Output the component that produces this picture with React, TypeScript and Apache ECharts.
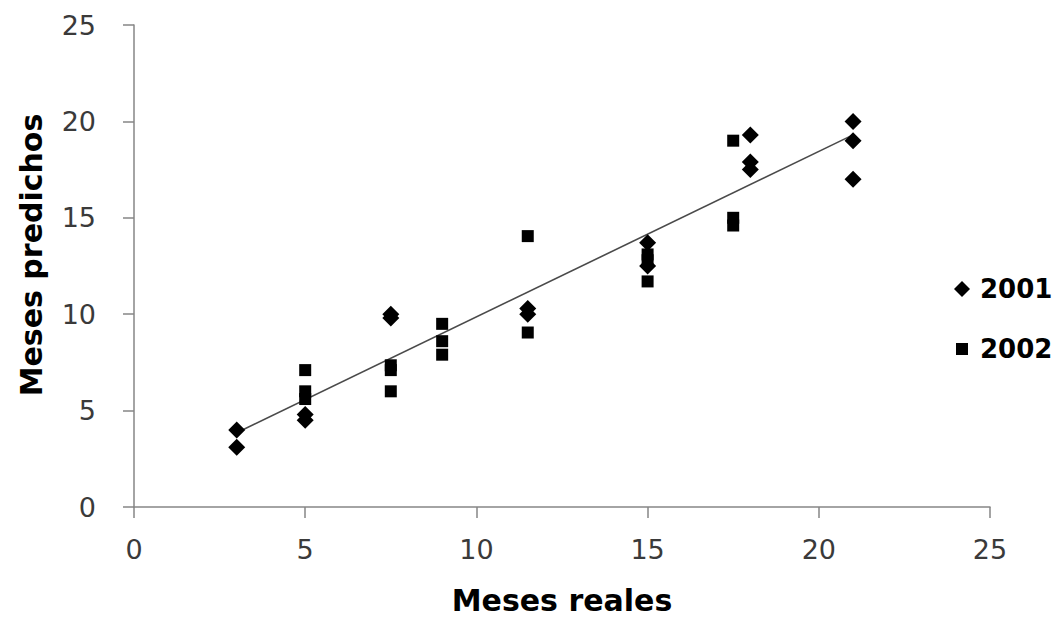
import React, { useEffect, useRef } from "react";
import * as echarts from "echarts";

const x2001 = [3, 3, 5, 5, 7.5, 7.5, 11.5, 11.5, 15, 15, 18, 18, 18, 21, 21, 21];
const y2001 = [4.0, 3.1, 4.8, 4.5, 10.0, 9.8, 10.3, 10.0, 13.7, 12.5, 19.3, 17.9, 17.5, 20.0, 19.0, 17.0];

const x2002 = [5, 5, 5, 7.5, 7.5, 7.5, 9, 9, 9, 11.5, 11.5, 15, 15, 15, 17.5, 17.5, 17.5];
const y2002 = [7.1, 6.0, 5.6, 7.35, 7.1, 6.0, 9.5, 8.6, 7.9, 14.05, 9.05, 13.1, 12.8, 11.7, 19.0, 15.0, 14.6];

const trendX = [3, 21];
const trendY = [3.85, 19.3];

const seriesNames = ["2001", "2002"];
const xTitle = "Meses reales";
const yTitle = "Meses predichos";

const zip = (xs: number[], ys: number[]) => xs.map((x, i) => [x, ys[i]]);

export default function App() {
  const ref = useRef<HTMLDivElement>(null);
  useEffect(() => {
    document.body.style.margin = "0";
    const chart = echarts.init(ref.current!, null, { renderer: "svg" });
    const axisColor = "#868686";
    const labelColor = "#3a3a3a";
    const font = "DejaVu Sans";
    const legendText = { fontFamily: font, fontSize: 26, fontWeight: "bold", color: "#000", padding: [0, 0, 0, 5] };
    chart.setOption({
      animation: false,
      backgroundColor: "#ffffff",
      grid: { left: 134, right: 66, top: 25, bottom: 110, containLabel: false, outerBoundsMode: "none" },
      xAxis: {
        type: "value",
        min: 0,
        max: 25,
        interval: 5,
        name: xTitle,
        nameLocation: "middle",
        nameGap: 78,
        nameTextStyle: { fontFamily: font, fontSize: 30, lineHeight: 30, fontWeight: "bold", color: "#000" },
        splitLine: { show: false },
        axisLine: { show: true, onZero: false, lineStyle: { color: axisColor, width: 1.5 } },
        axisTick: { show: true, length: 11, lineStyle: { color: axisColor, width: 1.5 } },
        axisLabel: { fontFamily: font, fontSize: 27, color: labelColor, margin: 29 },
      },
      yAxis: {
        type: "value",
        min: 0,
        max: 25,
        interval: 5,
        name: yTitle,
        nameLocation: "middle",
        nameGap: 88,
        nameTextStyle: { fontFamily: font, fontSize: 30, fontWeight: "bold", color: "#000", padding: [0, 0, 0, 22] },
        splitLine: { show: false },
        axisLine: { show: true, onZero: false, lineStyle: { color: axisColor, width: 1.5 } },
        axisTick: { show: true, length: 11, lineStyle: { color: axisColor, width: 1.5 } },
        axisLabel: { fontFamily: font, fontSize: 27, color: labelColor, margin: 38 },
      },
      legend: [
        {
          orient: "vertical",
          left: 949,
          top: 271,
          itemWidth: 16,
          itemHeight: 16,
          data: [{ name: seriesNames[0], icon: "diamond" }],
          textStyle: legendText,
        },
        {
          orient: "vertical",
          left: 951,
          top: 331,
          itemWidth: 12,
          itemHeight: 12,
          data: [{ name: seriesNames[1], icon: "rect" }],
          textStyle: { ...legendText, padding: [0, 0, 0, 7] },
        },
      ],
      series: [
        {
          name: "trend",
          type: "line",
          data: zip(trendX, trendY),
          showSymbol: false,
          symbol: "none",
          lineStyle: { color: "#4a4a4a", width: 1.6 },
          silent: true,
          z: 1,
        },
        {
          name: seriesNames[0],
          type: "scatter",
          symbol: "diamond",
          symbolSize: 17,
          itemStyle: { color: "#000", opacity: 1 },
          data: zip(x2001, y2001),
          z: 3,
        },
        {
          name: seriesNames[1],
          type: "scatter",
          symbol: "rect",
          symbolSize: 12,
          itemStyle: { color: "#000", opacity: 1 },
          data: zip(x2002, y2002),
          z: 3,
        },
      ],
    });
    return () => chart.dispose();
  }, []);
  return <div ref={ref} style={{ position: "fixed", left: 0, top: 0, width: 1056, height: 617 }} />;
}
